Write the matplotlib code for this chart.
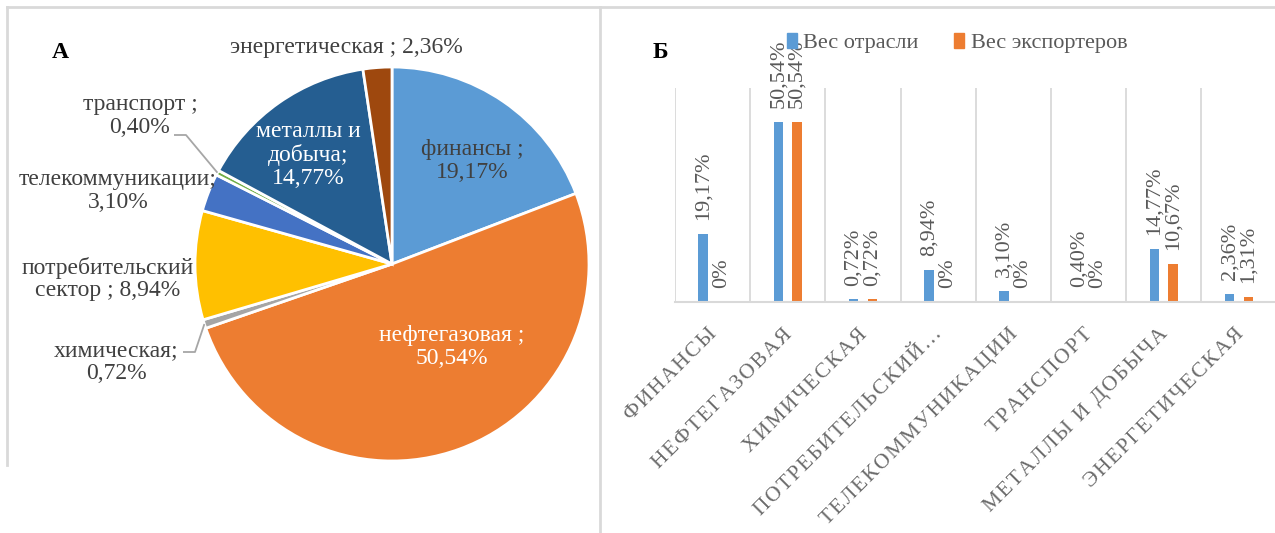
import numpy as np
import matplotlib
matplotlib.use("Agg")
import matplotlib.pyplot as plt
import matplotlib.transforms as mtrans
from matplotlib.patches import Patch

plt.rcParams['font.family'] = ['Liberation Serif', 'DejaVu Serif']

# ---- data ----
sectors = ["финансы", "нефтегазовая", "химическая", "потребительский сектор",
           "телекоммуникации", "транспорт", "металлы и добыча", "энергетическая"]
industry_weight = [19.17, 50.54, 0.72, 8.94, 3.10, 0.40, 14.77, 2.36]
exporter_weight = [0.00, 50.54, 0.72, 0.00, 0.00, 0.00, 10.67, 1.31]
tick_labels = ["ФИНАНСЫ", "НЕФТЕГАЗОВАЯ", "ХИМИЧЕСКАЯ", "ПОТРЕБИТЕЛЬСКИЙ…",
               "ТЕЛЕКОММУНИКАЦИИ", "ТРАНСПОРТ", "МЕТАЛЛЫ И ДОБЫЧА", "ЭНЕРГЕТИЧЕСКАЯ"]
series_names = ["Вес отрасли", "Вес экспортеров"]

pie_colors = ["#5B9BD5", "#ED7D31", "#A5A5A5", "#FFC000",
              "#4472C4", "#70AD47", "#255E91", "#9E480E"]
blue, orange = "#5B9BD5", "#ED7D31"
txt = "#404040"
gtxt = "#595959"

W, H = 1275, 533
fig = plt.figure(figsize=(W / 100, H / 100), dpi=100)

def fmt(v):
    return ("%.2f%%" % v).replace(".", ",") if v != 0 else "0%"

# ---- pie panel (data units = pixels, y up) ----
axp = fig.add_axes([0, 0, 600 / W, 1])
cx, cy, R = 392, H - 264, 197
wedges, _ = axp.pie(industry_weight, colors=pie_colors, startangle=90, counterclock=False,
                    radius=R, center=(cx, cy),
                    wedgeprops=dict(edgecolor="white", linewidth=2))
axp.set_xlim(0, 600)
axp.set_ylim(0, H)
axp.set_aspect("auto")
axp.axis("off")

fs = 17
def T(x, y, s, color=txt, **kw):
    axp.text(x, H - y, s, ha="center", va="center", fontsize=fs, color=color,
             linespacing=1.1, **kw)

T(346, 48, "энергетическая ; " + fmt(industry_weight[7]))
T(140, 116, "транспорт ;\n" + fmt(industry_weight[5]))
T(118, 191, "телекоммуникации;\n" + fmt(industry_weight[4]))
T(108, 279, "потребительский\nсектор ; " + fmt(industry_weight[3]))
T(116, 362, "химическая;\n" + fmt(industry_weight[2]))
T(472, 161, "финансы ;\n" + fmt(industry_weight[0]))
T(452, 347, "нефтегазовая ;\n" + fmt(industry_weight[1]), color="white")
T(308, 155, "металлы и\nдобыча;\n" + fmt(industry_weight[6]), color="white")

# leader lines
cum = np.cumsum([0] + industry_weight)
def wedge_pt(i):
    mid = (cum[i] + cum[i + 1]) / 2 / 100 * 360
    ang = np.deg2rad(90 - mid)
    return cx + R * np.cos(ang), cy + R * np.sin(ang)

for i, elbow, end in [(5, (186, 135), (174, 135)), (2, (195, 352), (183, 352))]:
    px, py = wedge_pt(i)
    axp.plot([px, elbow[0], end[0]], [py, H - elbow[1], H - end[1]],
             color="#A6A6A6", lw=1.3, solid_capstyle="butt")

fig.text(60 / W, 1 - 52 / H, "A", fontsize=17, fontweight="bold", ha="center", va="center")
fig.text(660 / W, 1 - 52 / H, "Б", fontsize=17, fontweight="bold", ha="center", va="center")

# ---- bar panel ----
x0, x1 = 675, 1275
ax = fig.add_axes([x0 / W, 1 - 302 / H, (x1 - x0) / W, (302 - 88) / H])
n = len(sectors)
x = np.arange(n)
bw = 0.13
ax.bar(x - 0.125, industry_weight, width=bw, color=blue)
ax.bar(x + 0.125, exporter_weight, width=bw, color=orange)
ax.set_xlim(-0.5, -0.5 + (x1 - x0) / 75.2)
ax.set_ylim(0, 60)
for s in ["top", "right", "left"]:
    ax.spines[s].set_visible(False)
ax.spines["bottom"].set_color("#D9D9D9")
ax.spines["bottom"].set_linewidth(1.5)
ax.set_yticks([])
ax.set_xticks(x)
spaced = ["\u200a".join(t) for t in tick_labels]
ax.set_xticklabels(spaced, rotation=45, ha="right", va="top",
                   rotation_mode="anchor", fontsize=15.5, color="#6b6b6b")
ax.tick_params(axis="x", length=0, pad=10)
shift = mtrans.ScaledTranslation(-5 / 100, -9 / 100, fig.dpi_scale_trans)
for lab in ax.get_xticklabels():
    lab.set_transform(lab.get_transform() + shift)
ax.set_xticks(np.arange(n) - 0.5, minor=True)
ax.tick_params(axis="x", which="minor", length=0)
ax.grid(True, which="minor", axis="x", color="#D9D9D9", lw=1.3)
ax.set_axisbelow(True)

for xi, v in zip(x, industry_weight):
    ax.annotate(fmt(v), (xi - 0.125, v), xytext=(0, 10), textcoords="offset points",
                rotation=90, ha="center", va="bottom", fontsize=16, color=gtxt)
for xi, v in zip(x, exporter_weight):
    ax.annotate(fmt(v), (xi + 0.125, v), xytext=(0, 10), textcoords="offset points",
                rotation=90, ha="center", va="bottom", fontsize=16, color=gtxt)

handles = [Patch(color=blue), Patch(color=orange)]
fig.legend(handles, series_names, loc="center", bbox_to_anchor=(957 / W, 1 - 43 / H),
           ncol=2, frameon=False, fontsize=16, handlelength=0.45, handleheight=0.7,
           handletextpad=0.3, columnspacing=1.6, labelcolor=gtxt)

# ---- panel borders ----
bc = "#D9D9D9"
fig.add_artist(plt.Line2D([7 / W, 1], [1 - 7 / H, 1 - 7 / H], color=bc, lw=2, transform=fig.transFigure))
fig.add_artist(plt.Line2D([7 / W, 7 / W], [1 - 7 / H, 1 - 465 / H], color=bc, lw=2, transform=fig.transFigure))
fig.add_artist(plt.Line2D([600 / W, 600 / W], [1 - 7 / H, 0], color=bc, lw=2, transform=fig.transFigure))

fig.savefig("out.png", dpi=100)
